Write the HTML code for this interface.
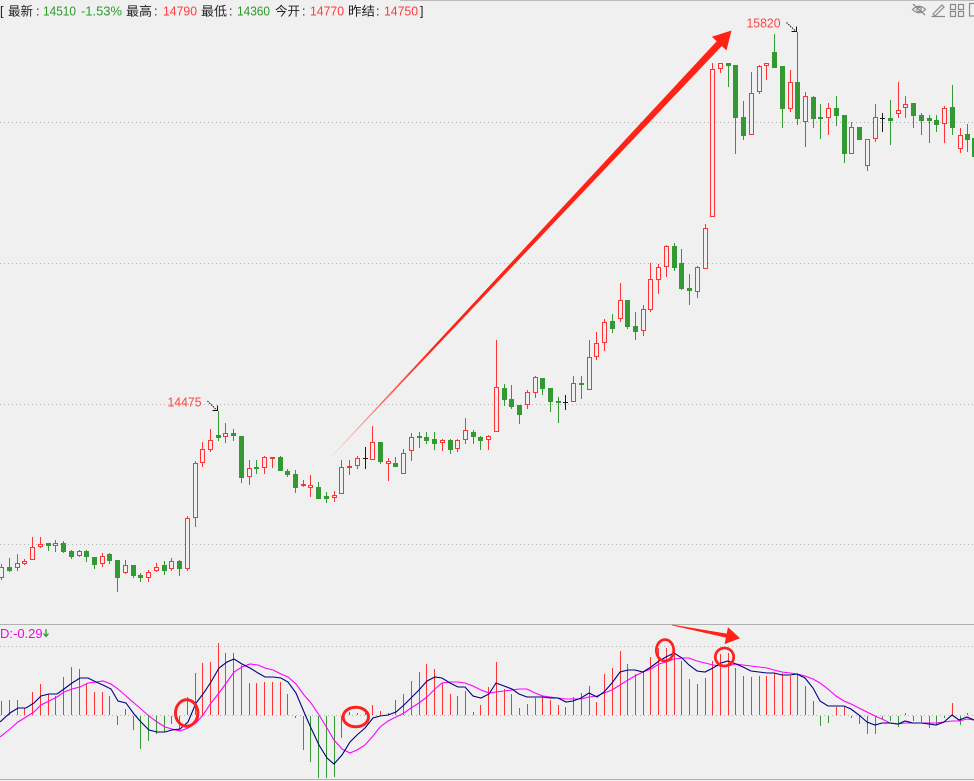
<!DOCTYPE html>
<html><head><meta charset="utf-8"><style>
html,body{margin:0;padding:0;background:#f0f0f0;width:974px;height:781px;overflow:hidden}
svg{display:block}
</style></head><body>
<svg xmlns="http://www.w3.org/2000/svg" width="974" height="781" viewBox="0 0 974 781">
<defs>
<linearGradient id="ag" gradientUnits="userSpaceOnUse" x1="332" y1="456" x2="731" y2="31">
<stop offset="0" stop-color="#ff2215" stop-opacity="0.12"/>
<stop offset="0.12" stop-color="#ff2215" stop-opacity="0.6"/>
<stop offset="0.25" stop-color="#ff2215" stop-opacity="1"/>
<stop offset="1" stop-color="#ff2215" stop-opacity="1"/>
</linearGradient>
</defs>
<rect width="974" height="781" fill="#f0f0f0"/>
<line x1="400" y1="0.5" x2="974" y2="0.5" stroke="#bcbcbc" stroke-width="1"/>

<!-- header -->
<g font-family="Liberation Sans, Noto Sans CJK SC, sans-serif" font-size="12.5">
<text x="0" y="15.5" fill="#222">[</text>
<text x="8" y="15.5" fill="#222" textLength="25" lengthAdjust="spacingAndGlyphs">最新</text>
<text x="36" y="15.5" fill="#222">:</text>
<text x="43" y="15.5" fill="#2b9a2b" textLength="33" lengthAdjust="spacingAndGlyphs">14510</text>
<text x="81" y="15.5" fill="#2b9a2b" textLength="41" lengthAdjust="spacingAndGlyphs">-1.53%</text>
<text x="126" y="15.5" fill="#222" textLength="26" lengthAdjust="spacingAndGlyphs">最高</text>
<text x="154" y="15.5" fill="#222">:</text>
<text x="163" y="15.5" fill="#ff3c3c" textLength="34" lengthAdjust="spacingAndGlyphs">14790</text>
<text x="201" y="15.5" fill="#222" textLength="26" lengthAdjust="spacingAndGlyphs">最低</text>
<text x="229" y="15.5" fill="#222">:</text>
<text x="237" y="15.5" fill="#2b9a2b" textLength="33" lengthAdjust="spacingAndGlyphs">14360</text>
<text x="275" y="15.5" fill="#222" textLength="25" lengthAdjust="spacingAndGlyphs">今开</text>
<text x="302" y="15.5" fill="#222">:</text>
<text x="310" y="15.5" fill="#ff3c3c" textLength="34" lengthAdjust="spacingAndGlyphs">14770</text>
<text x="348" y="15.5" fill="#222" textLength="27" lengthAdjust="spacingAndGlyphs">昨结</text>
<text x="376" y="15.5" fill="#222">:</text>
<text x="384" y="15.5" fill="#ff3c3c" textLength="34" lengthAdjust="spacingAndGlyphs">14750</text>
<text x="420" y="15.5" fill="#222">]</text>
</g>

<!-- header icons -->
<g fill="none" stroke="#8a8a8a" stroke-width="1.2">
<path d="M912.5 9.5 Q919 3 925.5 9.5 Q919 16 912.5 9.5 Z"/>
<circle cx="919" cy="9.5" r="2.2"/>
<path d="M913 4 L925 15"/>
<path d="M933 14 L942 5 L944 7 L935 16 Z M931.5 16.5 H945"/>
<rect x="950.5" y="4.5" width="5" height="5"/>
<rect x="958.5" y="4.5" width="5" height="5"/>
<rect x="950.5" y="11.5" width="5" height="5"/>
<rect x="958.5" y="11.5" width="5" height="5"/>
<rect x="969.5" y="3.5" width="10" height="12.5"/>
</g>

<!-- grid lines -->
<g stroke="#b4b4b4" stroke-width="1" stroke-dasharray="1 3">
<line x1="0" y1="122.5" x2="974" y2="122.5"/>
<line x1="0" y1="263.5" x2="974" y2="263.5"/>
<line x1="0" y1="404.5" x2="974" y2="404.5"/>
<line x1="0" y1="544.5" x2="974" y2="544.5"/>
<line x1="0" y1="646.5" x2="974" y2="646.5"/>
<line x1="0" y1="715.5" x2="974" y2="715.5"/>
</g>
<line x1="0" y1="624.5" x2="974" y2="624.5" stroke="#b0b0b0" stroke-width="1"/>
<line x1="0" y1="779.5" x2="974" y2="779.5" stroke="#b0b0b0" stroke-width="1"/>

<!-- green candles -->
<path fill="none" stroke="#339933" stroke-width="1" d="M9.5 558V572 M48.5 543V551 M63.5 541V553 M71.5 550V559 M86.5 550V562 M94.5 557V569 M109.5 553V564 M117.5 560V592 M133.5 565V578 M140.5 573V582 M164.5 561V575 M179.5 560V576 M218.5 411V441 M233.5 429V441 M241.5 436V483 M256.5 460V474 M280.5 456V471 M287.5 469V477 M295.5 470V493 M318.5 482V499 M326.5 492V503 M380.5 442V464 M395.5 457V467 M419.5 432V448 M426.5 432V444 M434.5 432V450 M450.5 439V454 M473.5 430V444 M480.5 436V450 M504.5 384V406 M511.5 385V409 M519.5 405V424 M542.5 378V395 M550.5 388V412 M558.5 397V423 M581.5 376V399 M612.5 314V333 M627.5 300V329 M635.5 312V340 M674.5 243V271 M681.5 249V290 M689.5 274V305 M728.5 63V87 M735.5 65V154 M743.5 101V140 M774.5 34V68 M782.5 66V128 M797.5 32V125 M813.5 96V128 M820.5 104V139 M836.5 96V126 M844.5 115V163 M859.5 127V140 M890.5 100V145 M913.5 103V128 M921.5 113V135 M929.5 115V143 M936.5 115V132 M952.5 85V135 M967.5 124V152 M974.5 130V162"/>
<path fill="#339933" stroke="none" d="M7 567h5V571h-5z M46 543h5V546h-5z M61 543h5V552h-5z M69 551h5V557h-5z M84 551h5V557h-5z M92 557h5V565h-5z M107 554h5V561h-5z M115 560h5V578h-5z M131 565h5V576h-5z M138 575h5V578h-5z M162 565h5V571h-5z M177 561h5V569h-5z M216 435h5V438h-5z M231 433h5V436h-5z M239 436h5V478h-5z M254 467h5V469h-5z M278 457h5V471h-5z M285 471h5V475h-5z M293 474h5V488h-5z M316 487h5V499h-5z M324 496h5V499h-5z M378 442h5V462h-5z M393 463h5V467h-5z M417 436h5V438h-5z M424 437h5V441h-5z M432 439h5V444h-5z M448 440h5V450h-5z M471 432h5V437h-5z M478 437h5V441h-5z M502 388h5V400h-5z M509 399h5V407h-5z M517 405h5V415h-5z M540 378h5V389h-5z M548 388h5V402h-5z M556 401h5V403h-5z M579 383h5V385h-5z M610 321h5V329h-5z M625 300h5V327h-5z M633 326h5V332h-5z M672 246h5V268h-5z M679 263h5V289h-5z M687 288h5V291h-5z M726 63h5V66h-5z M733 65h5V118h-5z M741 117h5V136h-5z M772 52h5V68h-5z M780 66h5V109h-5z M795 82h5V119h-5z M811 97h5V119h-5z M818 117h5V119h-5z M834 108h5V116h-5z M842 115h5V154h-5z M857 127h5V140h-5z M888 118h5V121h-5z M911 103h5V116h-5z M919 115h5V121h-5z M927 118h5V121h-5z M934 120h5V125h-5z M950 107h5V128h-5z M965 134h5V140h-5z M972 138h5V157h-5z"/>

<!-- red candles -->
<path fill="none" stroke="#ff3333" stroke-width="1" d="M1.5 564V580 M17.5 554V571 M24.5 559V565 M32.5 537V560 M40.5 537V548 M55.5 540V552 M79.5 550V557 M102.5 553V567 M125.5 560V574 M148.5 570V582 M156.5 563V572 M171.5 558V571 M187.5 516V571 M195.5 461V527 M202.5 442V467 M210.5 429V452 M225.5 423V443 M249.5 460V485 M264.5 456V474 M310.5 475V497 M334.5 491V502 M341.5 460V494 M357.5 456V469 M372.5 426V460 M388.5 458V481 M403.5 449V474 M411.5 433V461 M442.5 439V451 M457.5 439V452 M465.5 418V444 M488.5 435V450 M496.5 340V432 M527.5 390V409 M535.5 376V398 M573.5 376V402 M589.5 340V390 M596.5 332V360 M604.5 319V351 M620.5 283V322 M643.5 305V336 M650.5 263V312 M658.5 264V294 M666.5 245V277 M697.5 266V298 M705.5 224V269 M712.5 63V217 M720.5 63V73 M751.5 72V135 M759.5 65V94 M766.5 63V80 M790.5 70V112 M805.5 92V147 M828.5 103V135 M851.5 122V154 M867.5 139V171 M875.5 104V142 M898.5 82V118 M905.5 96V118 M944.5 106V143 M960.5 128V153 M272.5 457V468 M303.5 480V487 M349.5 460V475"/>
<path fill="#f0f0f0" stroke="#ff3333" stroke-width="1" d="M-0.5 567.5h4V577.5h-4z M15.5 563.5h4V567.5h-4z M22.5 561.5h4V563.5h-4z M30.5 547.5h4V559.5h-4z M38.5 544.5h4V546.5h-4z M53.5 543.5h4V545.5h-4z M77.5 551.5h4V555.5h-4z M100.5 556.5h4V563.5h-4z M123.5 565.5h4V572.5h-4z M146.5 572.5h4V577.5h-4z M154.5 567.5h4V570.5h-4z M169.5 561.5h4V568.5h-4z M185.5 518.5h4V568.5h-4z M193.5 463.5h4V517.5h-4z M200.5 449.5h4V462.5h-4z M208.5 440.5h4V449.5h-4z M223.5 433.5h4V436.5h-4z M247.5 468.5h4V476.5h-4z M262.5 457.5h4V467.5h-4z M308.5 485.5h4V487.5h-4z M332.5 495.5h4V497.5h-4z M339.5 467.5h4V493.5h-4z M355.5 458.5h4V465.5h-4z M370.5 442.5h4V459.5h-4z M386.5 461.5h4V463.5h-4z M401.5 453.5h4V473.5h-4z M409.5 437.5h4V450.5h-4z M440.5 440.5h4V442.5h-4z M455.5 440.5h4V448.5h-4z M463.5 430.5h4V439.5h-4z M486.5 436.5h4V439.5h-4z M494.5 387.5h4V431.5h-4z M525.5 392.5h4V404.5h-4z M533.5 377.5h4V392.5h-4z M571.5 383.5h4V401.5h-4z M587.5 357.5h4V389.5h-4z M594.5 343.5h4V356.5h-4z M602.5 322.5h4V342.5h-4z M618.5 300.5h4V318.5h-4z M641.5 309.5h4V330.5h-4z M648.5 279.5h4V309.5h-4z M656.5 267.5h4V279.5h-4z M664.5 246.5h4V266.5h-4z M695.5 267.5h4V291.5h-4z M703.5 228.5h4V268.5h-4z M710.5 69.5h4V216.5h-4z M718.5 63.5h4V68.5h-4z M749.5 93.5h4V134.5h-4z M757.5 66.5h4V91.5h-4z M764.5 63.5h4V65.5h-4z M788.5 82.5h4V108.5h-4z M803.5 96.5h4V121.5h-4z M826.5 108.5h4V117.5h-4z M849.5 127.5h4V153.5h-4z M865.5 139.5h4V165.5h-4z M873.5 117.5h4V138.5h-4z M896.5 110.5h4V113.5h-4z M903.5 104.5h4V107.5h-4z M942.5 108.5h4V123.5h-4z M958.5 135.5h4V148.5h-4z"/>
<path fill="#ff3333" stroke="none" d="M270 457h5v2h-5z M301 484h5v2h-5z M347 466h5v2h-5z"/>
<!-- black crosses -->
<path fill="none" stroke="#1a1a1a" stroke-width="1" d="M365.5 447V469 M363 458.5h5 M565.5 395V410 M563 402.5h5 M882.5 113V132 M880 118.5h5"/>

<!-- annotations -->
<g font-family="Liberation Sans, sans-serif" font-size="12.5" fill="#ff4444">
<text x="167.5" y="406.5" textLength="34" lengthAdjust="spacingAndGlyphs">14475</text>
<text x="746.5" y="27.5" textLength="34" lengthAdjust="spacingAndGlyphs">15820</text>
</g>
<g fill="none" stroke="#111" stroke-width="1">
<path d="M207.5 401 L217 410.5" stroke-dasharray="1.5 1"/>
<path d="M212.5 410.5 H217.5 V405.5"/>
<path d="M786.5 22.5 L796 31.5" stroke-dasharray="1.5 1"/>
<path d="M791.5 31.5 H796.5 V26.5"/>
</g>

<!-- big arrow -->
<polygon fill="url(#ag)" points="332.2,456.2 331.8,455.8 716.7,41.2 711.9,36.8 731.5,30.5 726.5,50.4 721.8,46.0"/>

<!-- MACD label -->
<text x="0" y="638" font-family="Liberation Sans, sans-serif" font-size="13" fill="#f000f0">D:-0.29</text>
<path d="M46 629 V636 M43.5 633.5 L46 636.5 L48.5 633.5" fill="none" stroke="#2b9a2b" stroke-width="1.3"/>

<!-- MACD bars -->
<path fill="none" stroke="#ff3333" stroke-width="1" d="M1.5 715V701 M9.5 715V700 M17.5 715V700 M24.5 715V708 M32.5 715V692 M40.5 715V684 M48.5 715V694 M55.5 715V696 M63.5 715V677 M71.5 715V667 M79.5 715V669 M86.5 715V684 M94.5 715V692 M102.5 715V692 M109.5 715V696 M125.5 715V709 M187.5 715V697 M195.5 715V673 M202.5 715V663 M210.5 715V662 M218.5 715V643 M225.5 715V653 M233.5 715V653 M241.5 715V665 M249.5 715V683 M256.5 715V683 M264.5 715V682 M272.5 715V682 M280.5 715V682 M287.5 715V694 M349.5 715V712 M357.5 715V713 M365.5 715V713 M372.5 715V705 M380.5 715V711 M388.5 715V713 M395.5 715V700 M403.5 715V694 M411.5 715V681 M419.5 715V672 M426.5 715V664 M434.5 715V669 M442.5 715V683 M450.5 715V694 M457.5 715V696 M465.5 715V691 M473.5 715V712 M480.5 715V705 M488.5 715V687 M496.5 715V662 M504.5 715V689 M511.5 715V694 M519.5 715V708 M527.5 715V704 M535.5 715V698 M542.5 715V697 M550.5 715V700 M558.5 715V705 M565.5 715V707 M573.5 715V697 M581.5 715V693 M589.5 715V686 M596.5 715V702 M604.5 715V674 M612.5 715V668 M620.5 715V651 M627.5 715V664 M635.5 715V674 M643.5 715V672 M650.5 715V657 M658.5 715V648 M666.5 715V648 M674.5 715V652 M681.5 715V661 M689.5 715V679 M697.5 715V684 M705.5 715V678 M712.5 715V661 M720.5 715V654 M728.5 715V653 M735.5 715V668 M743.5 715V676 M751.5 715V677 M759.5 715V676 M766.5 715V676 M774.5 715V673 M782.5 715V673 M790.5 715V676 M797.5 715V674 M805.5 715V686 M813.5 715V701 M836.5 715V707 M844.5 715V707 M905.5 715V713 M952.5 715V703 M967.5 715V713"/>
<path fill="none" stroke="#339933" stroke-width="1" d="M117.5 716V725 M133.5 716V730 M140.5 716V749 M148.5 716V741 M156.5 716V734 M164.5 716V732 M171.5 716V724 M179.5 716V731 M295.5 716V718 M303.5 716V750 M310.5 716V762 M318.5 716V778 M326.5 716V778 M334.5 716V777 M341.5 716V738 M820.5 716V726 M828.5 716V723 M851.5 716V718 M859.5 716V724 M867.5 716V734 M875.5 716V734 M882.5 716V719 M890.5 716V721 M898.5 716V727 M913.5 716V721 M921.5 716V722 M929.5 716V728 M936.5 716V725 M944.5 716V718 M960.5 716V725"/>

<!-- MACD lines -->
<polyline fill="none" stroke="#ff00ff" stroke-width="1.1" points="0,737 10,729 18,722 26,717 34,712 41,705 49,701 57,697 64,692 72,689 80,687 88,683 96,682 103,681 111,684 118,689 126,696 134,703 141,709 149,716 157,722 165,727 172,729 180,731 188,728 196,723 203,715 211,703 219,693 227,682 234,672 242,667 250,664 258,665 265,668 273,670 281,674 288,677 296,684 304,695 311,703 319,715 327,728 334,740 342,749 350,753 357,750 365,745 373,736 380,727 388,721 396,717 404,713 411,708 419,703 427,697 435,689 442,683 450,682 458,682 465,683 473,686 481,690 489,693 496,692 504,691 512,690 519,689 527,689 535,693 543,696 550,697 558,698 566,699 573,699 581,699 589,697 597,696 604,693 612,690 620,685 628,680 635,676 643,672 651,669 659,664 666,662 674,659 682,658 689,658 697,661 705,663 713,665 721,666 728,666 736,664 743,665 751,666 759,667 767,668 774,670 782,672 790,673 797,674 805,676 813,679 820,683 828,689 836,696 844,701 851,704 859,708 867,712 875,716 882,719 890,723 898,724 905,723 913,723 921,723 929,723 936,723 944,722 952,721 959,721 967,719 974,720"/>
<polyline fill="none" stroke="#000080" stroke-width="1.1" points="0,722 10,713 18,708 26,708 34,703 41,696 49,694 57,694 64,689 72,683 80,678 88,678 96,682 103,685 111,689 118,701 126,703 134,714 141,722 149,730 157,732 165,732 172,730 180,729 188,722 196,703 203,694 211,682 219,668 227,662 234,659 242,664 250,668 258,673 265,677 273,677 281,678 288,682 296,693 304,712 311,728 319,745 327,758 334,764 342,755 350,742 357,735 365,728 373,718 380,716 388,715 396,712 404,705 411,698 419,690 427,681 435,677 442,678 450,683 458,687 465,687 473,696 481,698 489,694 496,683 504,686 512,689 519,694 527,697 535,697 543,697 550,698 558,698 566,702 573,701 581,698 589,693 597,697 604,692 612,683 620,672 628,670 635,670 643,672 651,667 659,661 666,657 674,653 682,658 689,665 697,671 705,672 713,668 721,663 728,661 736,664 743,667 751,671 759,672 767,673 774,673 782,675 790,675 797,674 805,678 813,688 820,701 828,706 836,706 844,706 851,709 859,715 867,722 875,725 882,723 890,723 898,724 905,721 913,723 921,723 929,724 936,725 944,722 952,715 959,720 967,717 974,720"/>

<!-- MACD annotations -->
<g fill="none" stroke="#ff2020" stroke-width="3">
<ellipse cx="186.7" cy="713" rx="11.2" ry="13.2"/>
<ellipse cx="355.8" cy="717" rx="12.7" ry="9.8"/>
<ellipse cx="665" cy="650.3" rx="8.7" ry="10.7" stroke-width="2.7"/>
<ellipse cx="724.5" cy="657" rx="9.2" ry="9" stroke-width="2.7"/>
</g>
<polygon fill="#ff2215" points="672,624.6 672,625.4 725.9,637.6 724.6,644.1 740,638.3 728,627.1 726.7,633.6"/>
</svg>
</body></html>
